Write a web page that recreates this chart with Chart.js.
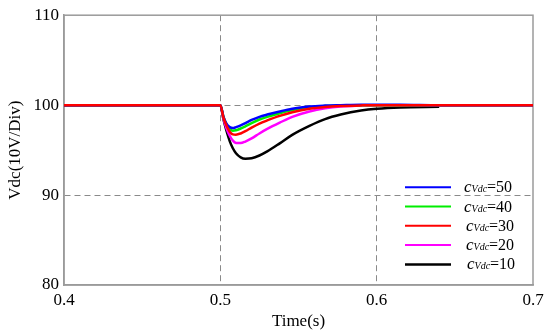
<!DOCTYPE html>
<html>
<head>
<meta charset="utf-8">
<script src="https://cdn.jsdelivr.net/npm/chart.js"></script>
<style>
  body { margin: 0; background: #fff; }
</style>
</head>
<body>
<canvas id="grafico" width="550" height="335"></canvas>
<script>
  var tempos = [0.4, 0.47, 0.5, 0.502, 0.504, 0.506, 0.508, 0.51, 0.513, 0.516, 0.52, 0.525, 0.53, 0.538, 0.546, 0.557, 0.567, 0.577, 0.59, 0.6, 0.615, 0.64, 0.7];

  // Vdc para cada valor de cVdc
  var vdc50 = [100, 100, 100, 98.7, 97.9, 97.55, 97.45, 97.55, 97.75, 98.0, 98.35, 98.7, 98.95, 99.3, 99.6, 99.85, 99.95, 100.0, 100.05, 100.05, 100.05, 100, 100];
  var vdc40 = [100, 100, 100, 98.7, 97.85, 97.35, 97.15, 97.2, 97.4, 97.65, 98.0, 98.4, 98.7, 99.1, 99.45, 99.75, 99.9, 99.97, 100, 100, 100, 100, 100];
  var vdc30 = [100, 100, 100, 98.6, 97.7, 97.05, 96.75, 96.72, 96.85, 97.1, 97.5, 97.95, 98.3, 98.8, 99.2, 99.6, 99.8, 99.9, 99.97, 100, 100, 100, 100];
  var vdc20 = [100, 100, 100, 98.5, 97.4, 96.6, 96.05, 95.8, 95.78, 95.95, 96.3, 96.85, 97.35, 98.05, 98.7, 99.3, 99.65, 99.85, 99.95, 100, 100, 100, 100];
  var vdc10 = [100, 100, 100, 98.4, 97.1, 96.0, 95.2, 94.65, 94.2, 94.05, 94.1, 94.4, 94.85, 95.75, 96.7, 97.7, 98.45, 98.95, 99.4, 99.6, 99.75, 99.82, null];

  var valores_c = ['50', '40', '30', '20', '10'];
  var cores = ['#0000ff', '#00ee00', '#ff0000', '#ff00ff', '#000000'];

  var ticks_x = [0.4, 0.5, 0.6, 0.7];
  var rotulos_x = ['0.4', '0.5', '0.6', '0.7'];
  var ticks_y = [80, 90, 100, 110];
  var rotulos_y = ['80', '90', '100', '110'];

  var series = [vdc50, vdc40, vdc30, vdc20, vdc10];

  function pontos(valores) {
    return tempos.map(function (t, i) { return { x: t, y: valores[i] }; });
  }

  var fonte = 'Liberation Serif';

  // cor da grade: some nas bordas (a moldura desenha essas)
  function corGrade(ctx) {
    var n = ctx.chart.scales[ctx.scale.id].ticks.length;
    if (ctx.index === 0 || ctx.index === n - 1) return 'rgba(0,0,0,0)';
    return '#8a8a8a';
  }

  // moldura de cima e da direita
  const moldura = {
    id: 'moldura',
    beforeDatasetsDraw(chart) {
      const a = chart.chartArea;
      const ctx = chart.ctx;
      ctx.save();
      ctx.strokeStyle = '#9a9a9a';
      ctx.lineWidth = 1.5;
      ctx.strokeRect(a.left, a.top, a.right - a.left, a.bottom - a.top);
      ctx.restore();
    }
  };

  // legenda com c italico e Vdc menor
  const legenda = {
    id: 'legenda',
    afterDraw(chart) {
      const a = chart.chartArea;
      const ctx = chart.ctx;
      ctx.save();
      valores_c.forEach(function (v, i) {
        var y = a.top + 172 + i * 19.3;
        var x0 = a.right - 128;
        ctx.strokeStyle = cores[i];
        ctx.lineWidth = i === 4 ? 2.5 : 2;
        ctx.beginPath();
        ctx.moveTo(x0, y);
        ctx.lineTo(x0 + 46, y);
        ctx.stroke();

        var x = x0 + 59 + (i >= 2 ? 2 : 0) + (i === 4 ? 1 : 0);
        ctx.fillStyle = '#000';
        ctx.textBaseline = 'alphabetic';
        ctx.font = 'italic 17px ' + fonte;
        ctx.fillText('c', x, y + 5);
        x += ctx.measureText('c').width;
        ctx.font = 'italic 10px ' + fonte;
        ctx.fillText('Vdc', x, y + 5);
        x += ctx.measureText('Vdc').width;
        ctx.font = '16px ' + fonte;
        ctx.fillText('=' + v, x, y + 5);
      });
      ctx.restore();
    }
  };

  const grafico = document.getElementById('grafico');

  new Chart(grafico, {
    type: 'line',
    data: {
      datasets: series.map(function (s, i) {
        return {
          label: 'cVdc=' + valores_c[i],
          data: pontos(s),
          borderColor: cores[i],
          backgroundColor: cores[i],
          borderWidth: 2.5,
          pointRadius: 0,
          cubicInterpolationMode: 'monotone',
          spanGaps: false,
          order: i === 2 ? -1 : 0
        };
      })
    },
    options: {
      responsive: false,
      animation: false,
      layout: { padding: { left: 0, right: 17, top: 15, bottom: 0 } },
      plugins: {
        legend: { display: false },
        tooltip: { enabled: false }
      },
      scales: {
        x: {
          type: 'linear',
          min: 0.4,
          max: 0.7,
          afterBuildTicks: function (axis) { axis.ticks = ticks_x.map(function (v) { return { value: v }; }); },
          afterFit: function (axis) { axis.height = 50; },
          ticks: {
            padding: 5,
            color: '#000',
            font: { family: fonte, size: 17 },
            callback: function (v, i) { return rotulos_x[i]; }
          },
          grid: { color: corGrade, lineWidth: 1, drawTicks: false },
          border: { display: true, color: '#9a9a9a', width: 1.5, dash: [6, 4] },
          title: { display: true, text: 'Time(s)', color: '#000', font: { family: fonte, size: 17 }, padding: { top: 0, bottom: 3 } }
        },
        y: {
          min: 80,
          max: 110,
          afterBuildTicks: function (axis) { axis.ticks = ticks_y.map(function (v) { return { value: v }; }); },
          afterFit: function (axis) { axis.width = 64; },
          ticks: {
            padding: 5,
            color: '#000',
            font: { family: fonte, size: 17 },
            callback: function (v, i) { return rotulos_y[i]; }
          },
          grid: { color: corGrade, lineWidth: 1, drawTicks: false },
          border: { display: true, color: '#9a9a9a', width: 1.5, dash: [6, 4] },
          title: { display: true, text: 'Vdc(10V/Div)', color: '#000', font: { family: fonte, size: 17 }, padding: { top: 5, bottom: 0 } }
        }
      }
    },
    plugins: [moldura, legenda]
  });
</script>
</body>
</html>
